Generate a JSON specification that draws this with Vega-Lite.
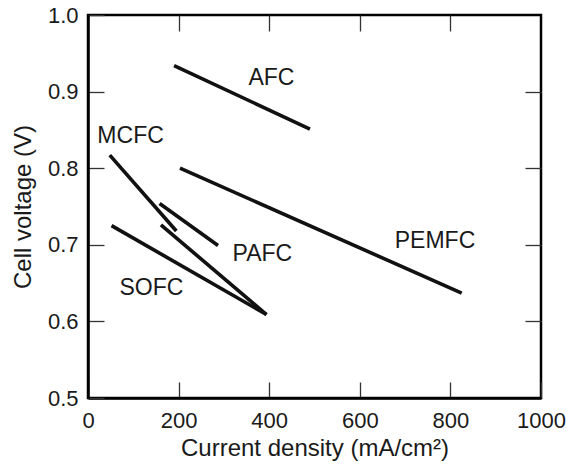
{
  "$schema": "https://vega.github.io/schema/vega-lite/v6.json",
  "width": 453,
  "height": 383,
  "autosize": "none",
  "padding": {"left": 88, "top": 15, "right": 25, "bottom": 66},
  "background": "white",
  "config": {
    "view": {"stroke": "black", "strokeWidth": 2.5},
    "font": "Liberation Sans",
    "axis": {"grid": false, "labelFlush": false, "labelOverlap": false, "labelFont": "Liberation Sans", "titleFont": "Liberation Sans", "labelColor": "#1a1a1a", "titleColor": "#1a1a1a", "titleFontWeight": "normal", "domainColor": "black", "domainWidth": 2.5, "tickColor": "#333", "tickWidth": 1.3}
  },
  "datasets": {
    "lines": [
      {"cell": "AFC", "j": 190, "v": 0.934},
      {"cell": "AFC", "j": 490, "v": 0.851},
      {"cell": "PEMFC", "j": 203, "v": 0.800},
      {"cell": "PEMFC", "j": 825, "v": 0.637},
      {"cell": "MCFC", "j": 48, "v": 0.817},
      {"cell": "MCFC", "j": 195, "v": 0.718},
      {"cell": "PAFC-a", "j": 158, "v": 0.754},
      {"cell": "PAFC-a", "j": 287, "v": 0.699},
      {"cell": "PAFC-b", "j": 161, "v": 0.726},
      {"cell": "PAFC-b", "j": 394, "v": 0.609},
      {"cell": "SOFC", "j": 52, "v": 0.725},
      {"cell": "SOFC", "j": 394, "v": 0.609}
    ],
    "labels": [
      {"name": "AFC", "j": 405, "v": 0.9175},
      {"name": "MCFC", "j": 94, "v": 0.842},
      {"name": "PEMFC", "j": 766, "v": 0.705},
      {"name": "PAFC", "j": 385, "v": 0.688},
      {"name": "SOFC", "j": 140, "v": 0.643}
    ]
  },
  "layer": [
    {
      "data": {"name": "lines"},
      "mark": {"type": "line", "color": "#111", "strokeWidth": 3.6, "strokeCap": "butt"},
      "encoding": {
        "x": {"field": "j", "type": "quantitative", "scale": {"domain": [0, 1000], "nice": false, "zero": false},
          "axis": {"orient": "bottom", "values": [0, 200, 400, 600, 800, 1000], "format": "d", "tickSize": -16, "labelPadding": 28, "labelFontSize": 22, "title": "Current density (mA/cm²)", "titleFontSize": 24, "titlePadding": 5}},
        "y": {"field": "v", "type": "quantitative", "scale": {"domain": [0.5, 1.0], "nice": false, "zero": false},
          "axis": {"orient": "left", "values": [0.5, 0.6, 0.7, 0.8, 0.9, 1.0], "format": ".1f", "tickSize": -16, "labelPadding": 26, "labelFontSize": 22, "title": "Cell voltage (V)", "titleFontSize": 24, "titlePadding": 12}},
        "detail": {"field": "cell"}
      }
    },
    {
      "data": {"name": "labels"},
      "mark": {"type": "text", "fontSize": 23, "color": "#1a1a1a", "font": "Liberation Sans"},
      "encoding": {
        "x": {"field": "j", "type": "quantitative", "scale": {"domain": [0, 1000], "nice": false, "zero": false},
          "axis": {"orient": "top", "values": [200, 400, 600, 800], "tickSize": -16, "labels": false, "domain": false, "title": null}},
        "y": {"field": "v", "type": "quantitative", "scale": {"domain": [0.5, 1.0], "nice": false, "zero": false},
          "axis": {"orient": "right", "values": [0.6, 0.7, 0.8, 0.9], "tickSize": -16, "labels": false, "domain": false, "title": null}},
        "text": {"field": "name"}
      }
    }
  ],
  "resolve": {"axis": {"x": "independent", "y": "independent"}}
}
